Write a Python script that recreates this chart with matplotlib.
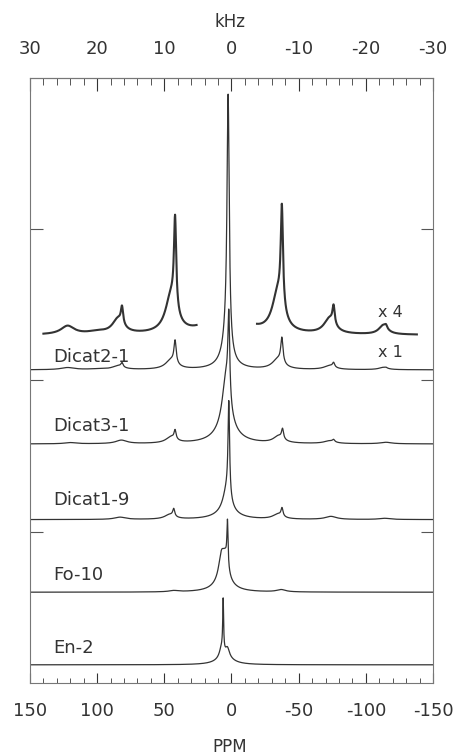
import numpy as np
import matplotlib.pyplot as plt
from matplotlib.ticker import MultipleLocator, FixedLocator

plt.rcParams['font.family'] = ['DejaVu Sans']

# samples from bottom to top, with vertical offsets of each trace
samples = ['En-2', 'Fo-10', 'Dicat1-9', 'Dicat3-1', 'Dicat2-1']
baselines = [0.12, 0.60, 1.08, 1.58, 2.07]
label_y = [0.23, 0.715, 1.21, 1.70, 2.155]

# peak tables: centre (ppm), height, half width (ppm)
en2_pos = [6.2, 7.5, 3.0, 5.0]
en2_amp = [0.34, 0.06, 0.06, 0.05]
en2_hw = [0.4, 1.8, 1.8, 7.0]

fo10_pos = [3.0, 7.5, 4.5, 6.0, -37.0, 43.0]
fo10_amp = [0.29, 0.16, 0.14, 0.06, 0.015, 0.008]
fo10_hw = [0.5, 2.5, 2.5, 8.0, 4.0, 4.0]

dicat19_pos = [2.0, 3.5, 3.5, 43.0, 46.0, -37.6, -34.5, 83.0, -74.0, -114.0]
dicat19_amp = [0.62, 0.15, 0.04, 0.05, 0.03, 0.055, 0.032, 0.015, 0.02, 0.008]
dicat19_hw = [0.7, 3.5, 10.0, 0.9, 4.5, 0.9, 4.5, 5.0, 5.0, 5.0]

dicat31_pos = [2.0, 4.0, 4.0, 42.0, 45.0, -38.0, -35.0, 82.0, -76.0, -73.0, -115.0, 120.0]
dicat31_amp = [0.55, 0.35, 0.08, 0.06, 0.04, 0.066, 0.045, 0.023, 0.015, 0.018, 0.01, 0.008]
dicat31_hw = [0.8, 3.5, 10.0, 0.9, 4.5, 0.9, 4.5, 5.0, 1.0, 5.0, 5.0, 5.0]

dicat21_pos = [2.5, 4.0, 4.0, 42.0, 45.0, -37.5, -34.5, 81.5, 84.5, -76.0, -73.0,
               -115.0, -113.0, 122.0, 100.0]
dicat21_amp = [1.66, 0.14, 0.05, 0.15, 0.06, 0.165, 0.065, 0.028, 0.024, 0.03, 0.025,
               0.005, 0.015, 0.014, 0.004]
dicat21_hw = [1.0, 3.0, 8.0, 1.0, 5.0, 1.0, 5.0, 1.0, 5.0, 1.0, 5.0,
              1.0, 4.0, 6.0, 8.0]

peak_tables = [
    (en2_pos, en2_amp, en2_hw),
    (fo10_pos, fo10_amp, fo10_hw),
    (dicat19_pos, dicat19_amp, dicat19_hw),
    (dicat31_pos, dicat31_amp, dicat31_hw),
    (dicat21_pos, dicat21_amp, dicat21_hw),
]

# expanded (x 4) copy of Dicat2-1, with the centre band cut out
x4_gain = 4
x4_base = 2.30
x4_ranges = [(140.0, 26.0), (-19.0, -138.0)]

ppm = np.linspace(150, -150, 3001)


def spectrum(pos, amp, hw):
    y = np.zeros_like(ppm)
    for p, a, w in zip(pos, amp, hw):
        y += a * w**2 / (w**2 + (ppm - p)**2)
    return y


fig = plt.figure(figsize=(4.62, 7.56), dpi=100)
ax = fig.add_axes([0.0649, 0.0966, 0.8723, 0.8003])

line_col = '#333333'
for name, base, ly, tab in zip(samples, baselines, label_y, peak_tables):
    y = spectrum(*tab)
    ax.plot(ppm, base + y, color=line_col, lw=0.9)
    ax.text(133, ly, name, fontsize=13, color='#333333', va='center', ha='left')

# x 4 trace
y21 = spectrum(*peak_tables[-1])
for hi, lo in x4_ranges:
    m = (ppm <= hi) & (ppm >= lo)
    ax.plot(ppm[m], x4_base + x4_gain * y21[m], color=line_col, lw=1.5)

ax.text(-109, 2.446, 'x 4', fontsize=11.5, color='#333333', va='center', ha='left')
ax.text(-109, 2.188, 'x 1', fontsize=11.5, color='#333333', va='center', ha='left')

ax.set_xlim(150, -150)
ax.set_ylim(0, 4)

ax.xaxis.set_minor_locator(MultipleLocator(10))
ax.xaxis.set_major_locator(FixedLocator([150, 100, 50, 0, -50, -100, -150]))
ax.set_xticklabels(['150', '100', '50', '0', '-50', '-100', '-150'])
ax.tick_params(axis='x', which='major', direction='in', length=7, width=0.8,
               pad=14, labelsize=13, colors='#333333')
ax.tick_params(axis='x', which='minor', direction='in', length=3.5, width=0.7,
               colors='#555555')

ax.yaxis.set_major_locator(FixedLocator([1, 2, 3]))
ax.set_yticklabels([])
ax.tick_params(axis='y', which='major', direction='in', length=9, width=0.8,
               left=True, right=True, colors='#555555')

for s in ax.spines.values():
    s.set_color('#777777')
    s.set_linewidth(0.8)

top = ax.secondary_xaxis('top', functions=(lambda p: p / 5.0, lambda k: k * 5.0))
top.xaxis.set_major_locator(FixedLocator([30, 20, 10, 0, -10, -20, -30]))
top.xaxis.set_minor_locator(MultipleLocator(2))
top.set_xticklabels(['30', '20', '10', '0', '-10', '-20', '-30'])
top.tick_params(axis='x', which='major', direction='in', length=9, width=0.8,
                pad=14, labelsize=13, colors='#333333')
top.tick_params(axis='x', which='minor', direction='in', length=5, width=0.7,
                colors='#555555')
top.spines['top'].set_color('#777777')

fig.text(0.498, 1 - 22 / 756, 'kHz', fontsize=12, color='#333333', ha='center', va='center')
fig.text(0.498, 1 - 747 / 756, 'PPM', fontsize=12, color='#333333', ha='center', va='center')

fig.savefig('out.png', dpi=100)
